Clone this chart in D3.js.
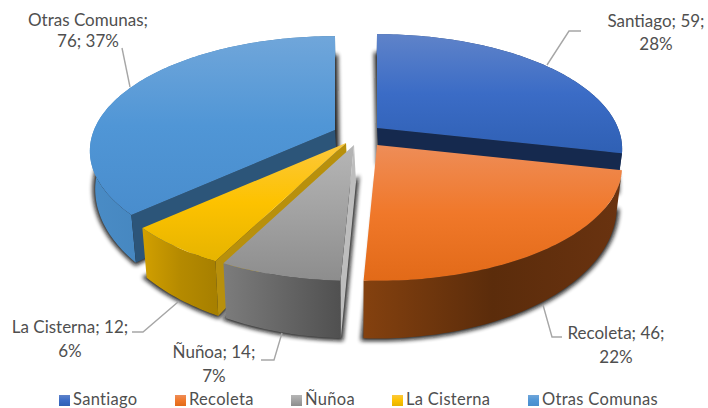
<!DOCTYPE html>
<html lang="es">
<head>
    <meta charset="UTF-8">
    <title>Comunas</title>
    <script src="https://d3js.org/d3.v7.min.js"></script>
    <style>
        html, body { margin: 0; padding: 0; background: #fff; overflow: hidden; }
        svg { display: block; font-family: Lato, sans-serif; }
        .lbl { font-size: 17px; fill: #4f4f4f; text-anchor: middle; }
        .leg { font-size: 16.5px; fill: #4f4f4f; letter-spacing: 0.3px; }
        .leader { fill: none; stroke: #a6a6a6; stroke-width: 1.4; }
    </style>
</head>
<body>
    <svg width="708" height="408"></svg>
    <script>
        const categories = ['Santiago', 'Recoleta', 'Ñuñoa', 'La Cisterna', 'Otras Comunas'];
        const values = [59, 46, 14, 12, 76];
        const percentLabels = ['28%', '22%', '7%', '6%', '37%'];

        // top face gradient: light, mid, dark
        const topColors = [['#5f83c9', '#3b6cc6', '#2f60b4'], ['#ee8d58', '#f0782a', '#e26a18'], ['#b6b6b6', '#a2a2a2', '#8d8d8d'], ['#fcc83c', '#fdc200', '#e6b400'], ['#70a6da', '#5096d6', '#498dcd']];
        const rimColors = [['#2b4f8f', '#1f3c70', '#1f3c70'], ['#84410f', '#5b2c0b', '#6a3310'], ['#7c7c7c', '#666666', '#505050'], ['#d2a000', '#b58a00', '#a67f00'], ['#4a8cc6', '#4080b8', '#37729f']];
        const faceColors = ['#15294e', '#6b3410', '#bdbdbd', '#b8900c', '#2c5579'];
        // which cut face of each slice looks at the viewer
        const visibleFace = ['end', null, 'start', 'start', 'start'];

        const cx = 356, cy = 135;
        const rx = 241, perspA = 111, perspB = -0.183;
        // slice explosion, screen px from the pie centre
        const explode = [[21, -7], [21, 10], [-2, 10], [-10, 8], [-21, -5]];
        const drawOrder = [0, 4, 3, 2, 1];

        const svg = d3.select('svg');
        const defs = svg.append('defs');

        const blur = defs.append('filter').attr('id', 'blur')
            .attr('x', '-10%').attr('y', '-10%').attr('width', '120%').attr('height', '120%');
        blur.append('feGaussianBlur').attr('stdDeviation', 2);

        categories.forEach((c, i) => {
            const g = defs.append('linearGradient').attr('id', 'top' + i)
                .attr('x1', 0).attr('y1', 0).attr('x2', 0).attr('y2', 1);
            [0, 0.5, 1].forEach((o, k) => g.append('stop').attr('offset', o).attr('stop-color', topColors[i][k]));
            const r = defs.append('linearGradient').attr('id', 'rim' + i)
                .attr('x1', 0).attr('y1', 0).attr('x2', 1).attr('y2', 0);
            [0, 0.5, 1].forEach((o, k) => r.append('stop').attr('offset', o).attr('stop-color', rimColors[i][k]));
        });

        const pie = d3.pie().sort(null);
        const arcs = pie(values);
        const line = d3.line();

        // perspective ground plane: angle 0 points to the back of the pie
        function project(angle, radius) {
            const t = -Math.cos(angle) * radius;
            const k = 1 / (1 + perspB * t);
            return [rx * Math.sin(angle) * radius * k, perspA * t * k];
        }

        // extruded bottom point for a top point
        function drop(p) {
            const depth = 38 + (p[1] - 150) * 0.15;
            return [p[0] + (cx - p[0]) * 0.02, p[1] + depth];
        }

        function rimPoints(a, i) {
            const steps = Math.ceil((a.endAngle - a.startAngle) / 0.02);
            return d3.range(steps + 1).map(s => {
                const an = a.startAngle + (a.endAngle - a.startAngle) * s / steps;
                const p = project(an, 1);
                return [cx + explode[i][0] + p[0], cy + explode[i][1] + p[1]];
            });
        }

        drawOrder.forEach(i => {
            const a = arcs[i];
            const apex = [cx + explode[i][0], cy + explode[i][1]];
            const rim = rimPoints(a, i);
            const apexLow = [apex[0] + 2, drop(apex)[1]];
            const rimLow = rim.map(drop);
            const g = svg.append('g');

            // soft shadow round the extruded part
            g.append('path')
                .attr('d', line([apexLow, ...rimLow]) + 'Z')
                .attr('fill', '#111').attr('stroke', '#111').attr('stroke-width', 5)
                .attr('opacity', 0.9).attr('filter', 'url(#blur)');

            // outer rim
            g.append('path')
                .attr('d', line([...rim, ...rimLow.slice().reverse()]) + 'Z')
                .attr('fill', `url(#rim${i})`);

            // cut face
            if (visibleFace[i]) {
                const p = visibleFace[i] === 'start' ? rim[0] : rim[rim.length - 1];
                g.append('path')
                    .attr('d', line([apex, p, drop(p), apexLow]) + 'Z')
                    .attr('fill', faceColors[i]);
            }

            // top
            g.append('path')
                .attr('d', line([apex, ...rim]) + 'Z')
                .attr('fill', `url(#top${i})`);
        });

        const leaders = [
            [[547, 65], [569, 31], [581, 31]],
            [[543, 305], [552, 337], [562, 337]],
            [[282, 333], [274, 360], [261, 360]],
            [[178, 302], [143, 332], [132, 332]],
            [[130, 87], [122, 48]]
        ];
        leaders.forEach(d => svg.append('path').attr('class', 'leader').attr('d', line(d)));

        const labelPos = [[656, 27, 50], [616, 339, 363], [214, 358, 382], [70, 333, 357], [88, 26, 47]];
        categories.forEach((c, i) => {
            const [x, y1, y2] = labelPos[i];
            const first = i === 4 ? `${c};` : `${c}; ${values[i]};`;
            const second = i === 4 ? `${values[i]}; ${percentLabels[i]}` : percentLabels[i];
            svg.append('text').attr('class', 'lbl').attr('x', x).attr('y', y1).text(first);
            svg.append('text').attr('class', 'lbl').attr('x', x).attr('y', y2).text(second);
        });

        const legendX = d3.scaleOrdinal().domain(categories).range([59, 175, 291, 392, 528]);
        const legend = svg.append('g').selectAll('g').data(categories).enter().append('g')
            .attr('transform', d => `translate(${legendX(d)},395)`);
        legend.append('rect').attr('width', 11).attr('height', 11)
            .attr('fill', (d, i) => `url(#top${i})`);
        legend.append('text').attr('class', 'leg').attr('x', 14).attr('y', 10).text(d => d);
    </script>
</body>
</html>
